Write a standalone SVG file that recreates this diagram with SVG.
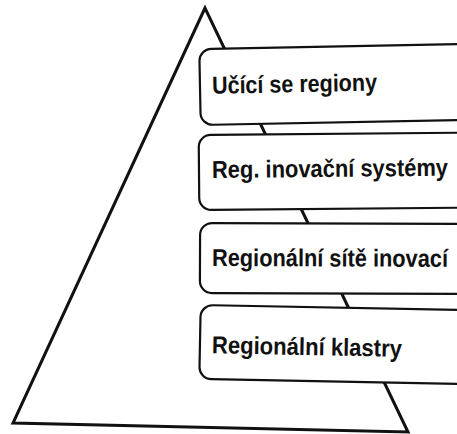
<svg xmlns="http://www.w3.org/2000/svg" width="457" height="434" viewBox="0 0 457 434">
  <style>
    .tri { fill: none; stroke: #111; stroke-width: 3; stroke-linejoin: miter; }
    .box { fill: #fff; stroke: #111; stroke-width: 2.2; }
    .lbl { font-family: "Liberation Sans", Arial, sans-serif; font-weight: bold; font-size: 24.5px; fill: #111; }
  </style>
  <rect width="457" height="434" fill="#fff"/>
  <g id="connectors">
    <path class="tri" d="M205,8 L13,423 L408,432 Z"/>
  </g>
  <g id="level1" transform="rotate(-1.1 200 87)">
    <rect class="box" x="200" y="49" width="300" height="76" rx="12"/>
    <text class="lbl" x="212" y="94" textLength="165" lengthAdjust="spacingAndGlyphs">Učící se regiony</text>
  </g>
  <g id="level2" transform="rotate(-0.5 200 172)">
    <rect class="box" x="199" y="135" width="300" height="75" rx="12"/>
    <text class="lbl" x="212" y="178" textLength="236" lengthAdjust="spacingAndGlyphs">Reg. inovační systémy</text>
  </g>
  <g id="level3" transform="rotate(0.2 200 258)">
    <rect class="box" x="200" y="223" width="300" height="70" rx="12"/>
    <text class="lbl" x="212" y="266" textLength="236" lengthAdjust="spacingAndGlyphs">Regionální sítě inovací</text>
  </g>
  <g id="level4" transform="rotate(1.1 200 342)">
    <rect class="box" x="200" y="305" width="300" height="74" rx="12"/>
    <text class="lbl" x="212" y="353" textLength="190" lengthAdjust="spacingAndGlyphs">Regionální klastry</text>
  </g>
</svg>
